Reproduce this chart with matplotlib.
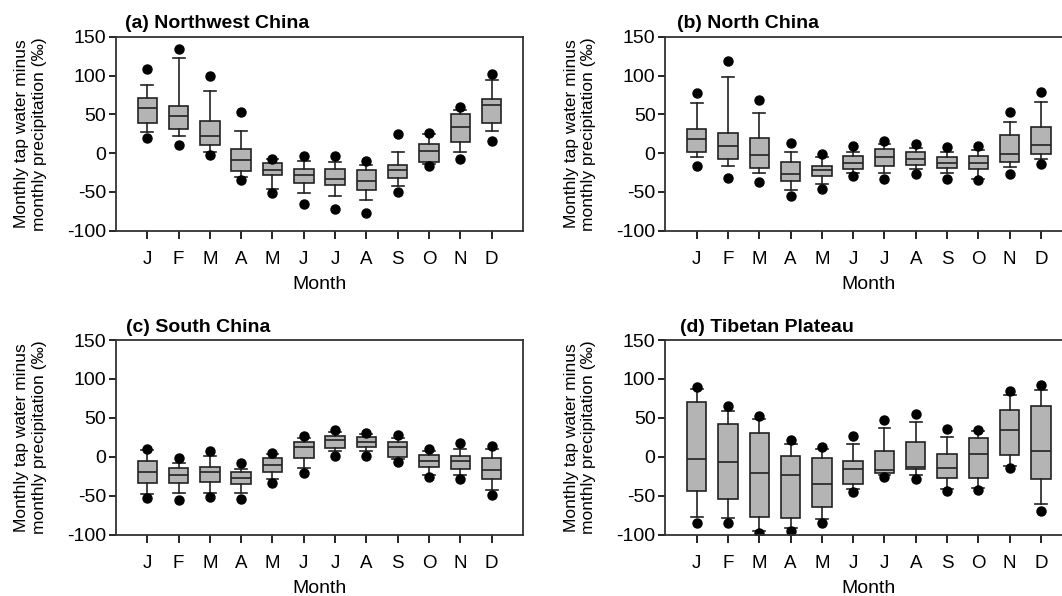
import matplotlib
matplotlib.use('Agg')
import matplotlib.pyplot as plt

plt.rcParams['font.family'] = ['Liberation Sans', 'DejaVu Sans']
plt.rcParams['axes.unicode_minus'] = False

months = ['J', 'F', 'M', 'A', 'M', 'J', 'J', 'A', 'S', 'O', 'N', 'D']

# (a) Northwest China: 5th, 10th, 25th, 50th, 75th, 90th, 95th percentiles
nw_p5 = [20, 11, -3, -35, -52, -66, -72, -77, -50, -16, -8, 16]
nw_p10 = [27, 22, 1, -31, -46, -52, -55, -60, -43, -14, 1, 29]
nw_q1 = [39, 31, 11, -23, -28, -39, -41, -47, -32, -11, 14, 39]
nw_med = [58, 48, 22, -9, -22, -28, -34, -36, -22, 3, 34, 62]
nw_q3 = [71, 61, 41, 5, -13, -20, -20, -22, -15, 12, 51, 70]
nw_p90 = [88, 122, 80, 29, -8, -10, -12, -15, 1, 25, 55, 94]
nw_p95 = [109, 134, 100, 53, -7, -4, -4, -10, 25, 26, 59, 102]

# (b) North China
n_p5 = [-17, -32, -37, -55, -46, -30, -33, -27, -33, -35, -27, -14]
n_p10 = [-5, -17, -26, -47, -40, -26, -26, -21, -26, -33, -18, -7]
n_q1 = [1, -8, -19, -36, -30, -21, -17, -15, -19, -21, -12, -1]
n_med = [18, 9, -3, -27, -22, -13, -5, -8, -13, -13, -1, 11]
n_q3 = [31, 26, 19, -11, -16, -4, 5, 1, -5, -4, 23, 34]
n_p90 = [64, 98, 52, 1, -5, 2, 12, 6, 2, 4, 40, 66]
n_p95 = [77, 119, 68, 13, -1, 9, 15, 12, 8, 9, 53, 79]

# (c) South China
s_p5 = [-53, -55, -51, -54, -33, -21, 1, 1, -7, -26, -28, -49]
s_p10 = [-48, -47, -47, -46, -29, -14, 7, 7, -3, -23, -24, -42]
s_q1 = [-34, -34, -32, -35, -20, -2, 11, 12, 0, -13, -16, -29]
s_med = [-19, -23, -20, -27, -11, 13, 21, 19, 13, -5, -6, -17]
s_q3 = [-6, -15, -13, -20, -1, 19, 27, 25, 19, 2, 1, -2]
s_p90 = [9, -8, 1, -16, 4, 24, 32, 29, 24, 7, 10, 10]
s_p95 = [10, -2, 7, -8, 5, 27, 34, 31, 28, 10, 18, 14]

# (d) Tibetan Plateau
t_p5 = [-85, -85, -98, -95, -85, -45, -26, -29, -44, -43, -14, -70]
t_p10 = [-77, -79, -95, -92, -80, -41, -23, -24, -41, -40, -12, -60]
t_q1 = [-44, -54, -77, -78, -65, -35, -21, -16, -27, -27, 2, -29]
t_med = [-3, -7, -21, -23, -35, -16, -17, -13, -15, 3, 34, 7]
t_q3 = [71, 42, 31, 1, -2, -5, 8, 19, 3, 24, 60, 65]
t_p90 = [87, 59, 48, 17, 10, 17, 37, 45, 26, 33, 79, 86]
t_p95 = [90, 65, 53, 22, 13, 27, 47, 55, 36, 35, 84, 92]

panels = [
    ('(a) Northwest China', nw_p5, nw_p10, nw_q1, nw_med, nw_q3, nw_p90, nw_p95),
    ('(b) North China', n_p5, n_p10, n_q1, n_med, n_q3, n_p90, n_p95),
    ('(c) South China', s_p5, s_p10, s_q1, s_med, s_q3, s_p90, s_p95),
    ('(d) Tibetan Plateau', t_p5, t_p10, t_q1, t_med, t_q3, t_p90, t_p95),
]

# axes rectangles in figure fractions; right column runs past the figure edge
rects = [
    [0.1092, 0.6129, 0.3832, 0.3255],
    [0.6265, 0.6129, 0.3832, 0.3255],
    [0.1092, 0.1029, 0.3832, 0.3266],
    [0.6265, 0.1029, 0.3832, 0.3266],
]
title_x = [0.022, 0.028, 0.025, 0.036]

fig = plt.figure(figsize=(10.62, 5.96), dpi=100)

for i, (title, p5, p10, q1, med, q3, p90, p95) in enumerate(panels):
    ax = fig.add_axes(rects[i])
    stats = []
    for k in range(12):
        stats.append({'med': med[k], 'q1': q1[k], 'q3': q3[k],
                      'whislo': p10[k], 'whishi': p90[k],
                      'fliers': [p5[k], p95[k]]})
    pos = list(range(1, 13))
    lw = 1.2
    ax.bxp(stats, positions=pos, widths=0.62, capwidths=0.38,
           patch_artist=True, showfliers=True,
           boxprops=dict(facecolor='#b4b4b4', edgecolor='#222222', linewidth=lw),
           medianprops=dict(color='#222222', linewidth=lw),
           whiskerprops=dict(color='#222222', linewidth=lw),
           capprops=dict(color='#222222', linewidth=lw),
           flierprops=dict(marker='o', markerfacecolor='black',
                           markeredgecolor='black', markersize=6.5))
    ax.set_xlim(0, 13)
    ax.set_ylim(-100, 150)
    ax.set_yticks([-100, -50, 0, 50, 100, 150])
    ax.set_xticks(pos)
    ax.set_xticklabels(months)
    ax.tick_params(axis='x', direction='out', length=5.5, width=1.2, pad=9, labelsize=13.5)
    ax.tick_params(axis='y', direction='out', length=5, width=1.2, pad=2, labelsize=14)
    for sp in ax.spines.values():
        sp.set_linewidth(1.3)
        sp.set_color('#333333')
    ax.set_xlabel('Month', fontsize=14, labelpad=6)
    ax.set_ylabel('Monthly tap water minus\nmonthly precipitation (‰)', fontsize=12.5)
    ax.yaxis.set_label_coords(-0.17, 0.5)
    ax.set_title(title, loc='left', x=title_x[i], pad=6,
                 fontsize=14, fontweight='bold')

fig.savefig('out.png', dpi=100)
